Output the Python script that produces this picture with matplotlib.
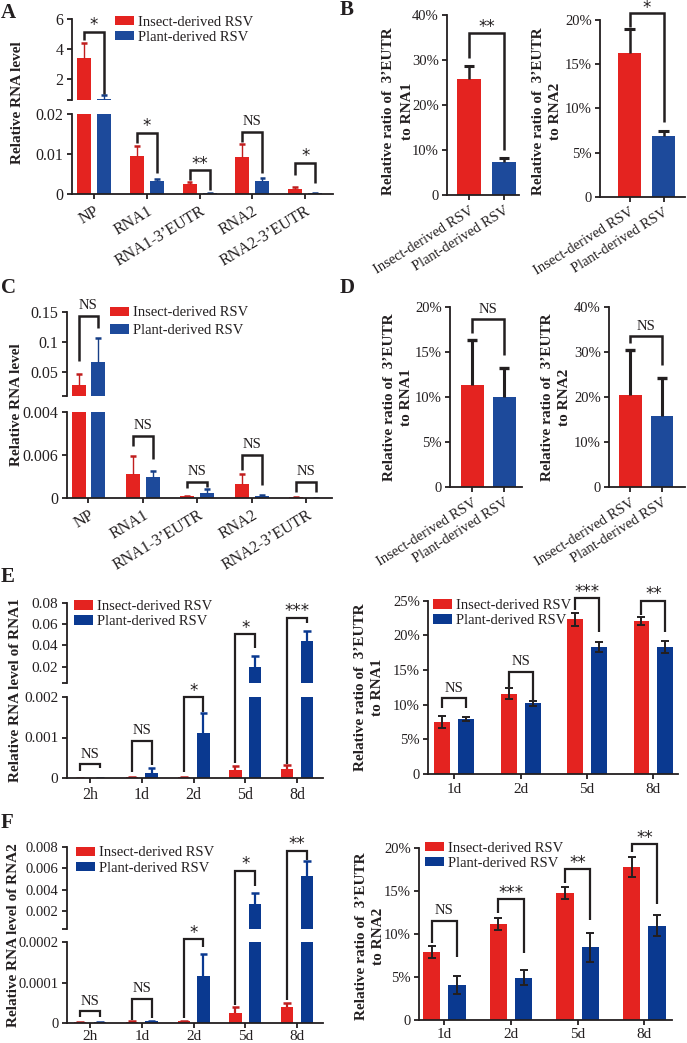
import matplotlib
matplotlib.use('Agg')
import matplotlib.pyplot as plt
from matplotlib.lines import Line2D
from matplotlib.patches import Patch
import numpy as np

# ---------------- data ----------------
A_categories = ['NP', 'RNA1', 'RNA1-3’EUTR', 'RNA2', 'RNA2-3’EUTR']
A_insect = [3.40, 0.0094, 0.0024, 0.0091, 0.0013]
A_insect_err = [0.98, 0.0025, 0.0006, 0.0033, 0.0005]
A_plant = [0.65, 0.0031, 0.0001, 0.0031, 0.0001]
A_plant_err = [0.25, 0.0007, 0.0001, 0.0009, 0.0001]
A_sig = ['*', '*', '**', 'NS', '*']

B_groups = ['Insect-derived RSV', 'Plant-derived RSV']
B1_values = [25.8, 7.4]
B1_err = [2.8, 0.9]
B1_sig = '**'
B2_values = [16.3, 6.87]
B2_err = [2.7, 0.6]
B2_sig = '*'

C_categories = A_categories
C_insect = [0.029, 0.00326, 0.0002, 0.0019, 0.00005]
C_insect_err = [0.0177, 0.0026, 0.0001, 0.00136, 0.00002]
C_plant = [0.0665, 0.00289, 0.00066, 0.00028, 0.00001]
C_plant_err = [0.0395, 0.00084, 0.00051, 0.0001, 0.00001]
C_sig = ['NS', 'NS', 'NS', 'NS', 'NS']

D1_values = [11.37, 10.07]
D1_err = [5.0, 3.2]
D2_values = [20.4, 15.9]
D2_err = [9.9, 8.4]
D_sig = 'NS'

E_times = ['2h', '1d', '2d', '5d', '8d']
E_insect = [0.000005, 0.00002, 0.00002, 0.0002, 0.00023]
E_insect_err = [0.000005, 0.00001, 0.00001, 0.0001, 0.00009]
E_plant = [0.00001, 0.000137, 0.0011, 0.020, 0.0441]
E_plant_err = [0.000005, 0.00012, 0.00049, 0.010, 0.0097]
E_sig = ['NS', 'NS', '*', '*', '***']

ER_times = ['1d', '2d', '5d', '8d']
ER_insect = [7.55, 11.6, 22.3, 22.1]
ER_insect_err = [0.85, 0.85, 0.95, 0.55]
ER_plant = [7.94, 10.2, 18.3, 18.3]
ER_plant_err = [0.33, 0.4, 0.75, 0.9]
ER_sig = ['NS', 'NS', '***', '**']

F_times = E_times
F_insect = [0.000001, 0.000002, 0.000004, 0.0000234, 0.0000383]
F_insect_err = [0.000001, 0.000001, 0.000001, 0.0000146, 0.0000115]
F_plant = [0.000001, 0.000003, 0.000117, 0.0026, 0.00532]
F_plant_err = [0.000001, 0.000002, 0.000053, 0.0011, 0.00139]
F_sig = ['NS', 'NS', '*', '*', '**']

FR_times = ER_times
FR_insect = [7.85, 11.14, 14.77, 17.8]
FR_insect_err = [0.7, 0.73, 0.68, 1.16]
FR_plant = [4.06, 4.9, 8.43, 10.94]
FR_plant_err = [1.05, 0.87, 1.64, 1.2]
FR_sig = ['NS', '***', '**', '**']

legend_labels = ['Insect-derived RSV', 'Plant-derived RSV']

# ---------------- style ----------------
W, H = 687, 1043
INK = '#231f20'
RED = '#E42320'
BLUE = '#1D4A9B'
NAVY = '#0A3990'
DRED = '#C01E1E'
DBLUE = '#163E86'
plt.rcParams['font.family'] = ['Liberation Serif', 'DejaVu Serif']
plt.rcParams.update({
    'axes.edgecolor': INK, 'xtick.color': INK, 'ytick.color': INK,
    'text.color': INK, 'axes.linewidth': 1.3,
    'xtick.major.width': 1.3, 'ytick.major.width': 1.3,
    'xtick.major.size': 3.5, 'ytick.major.size': 3.5,
    'xtick.major.pad': 3, 'ytick.major.pad': 2.5,
})
TICK_L = 11.5   # left (broken) panels
TICK_R = 10.5   # right panels
YLAB_FS = 11

fig = plt.figure(figsize=(W / 100, H / 100), dpi=100)


def add_ax(x0, y0, x1, y1, fs):
    ax = fig.add_axes([x0 / W, 1 - y1 / H, (x1 - x0) / W, (y1 - y0) / H])
    ax.spines['top'].set_visible(False)
    ax.spines['right'].set_visible(False)
    ax.patch.set_alpha(0)
    ax.tick_params(labelsize=fs)
    return ax


def to_fig(ax, x, y):
    d = ax.transData.transform((x, y))
    return fig.transFigure.inverted().transform(d)


def bracket(pl, ph, pr, xl, xr, text, lw=1.8, fs_ns=10.5, fs_star=12, star_gap=1.5):
    (axl, yl), (axh, yh), (axr, yr) = pl, ph, pr
    p1 = to_fig(axl, xl, yl)
    p2 = to_fig(axh, xl, yh)
    p3 = to_fig(axh, xr, yh)
    p4 = to_fig(axr, xr, yr)
    fig.add_artist(Line2D([p1[0], p2[0], p3[0], p4[0]], [p1[1], p2[1], p3[1], p4[1]],
                          transform=fig.transFigure, color=INK, lw=lw,
                          solid_joinstyle='miter', solid_capstyle='butt'))
    xm = (p2[0] + p3[0]) / 2
    if text == 'NS':
        fig.text(xm, p2[1] + 3.5 / H, text, ha='center', va='bottom', fontsize=fs_ns)
    else:
        fig.text(xm, p2[1] + star_gap / H, text, ha='center', va='baseline',
                 fontsize=fs_star, family='DejaVu Sans')


def err_up(ax, xs, ys, es, color, lw=1.0, capw=0.12, caplw=1.6):
    xs = np.asarray(xs, float)
    ys = np.asarray(ys, float)
    es = np.asarray(es, float)
    ax.vlines(xs, ys, ys + es, color=color, lw=lw)
    ax.hlines(ys + es, xs - capw / 2, xs + capw / 2, color=color, lw=caplw)


def legend_at(ax, x, y, colors, ls=0.15, fs=10.5):
    handles = [Patch(facecolor=c, edgecolor='none') for c in colors]
    ax.legend(handles, legend_labels, loc='upper left', bbox_to_anchor=(x / W, 1 - y / H),
              bbox_transform=fig.transFigure, frameon=False, borderpad=0, borderaxespad=0,
              handlelength=1.3, handleheight=0.65, handletextpad=0.3, labelspacing=ls,
              fontsize=fs)


def ylabel_at(x, y, text, ls=1.6):
    fig.text(x / W, 1 - y / H, text, rotation=90, ha='center', va='center',
             fontweight='bold', fontsize=YLAB_FS, linespacing=ls, multialignment='center')


def panel_letter(x, y, t):
    fig.text(x / W, 1 - y / H, t, fontsize=15, fontweight='bold', ha='left', va='baseline')


def broken(x0, x1, ty0, ty1, by0, by1, tlim, blim, tticks, tlabels, bticks, blabels, xlim,
           fs=TICK_L):
    axt = add_ax(x0, ty0, x1, ty1, fs)
    axb = add_ax(x0, by0, x1, by1, fs)
    for ax in (axt, axb):
        ax.set_xlim(*xlim)
    axt.spines['bottom'].set_visible(False)
    axt.tick_params(axis='x', bottom=False, labelbottom=False)
    axt.set_ylim(*tlim)
    axt.set_yticks(list(tticks) + [tlim[0]])
    axt.set_yticklabels(list(tlabels) + [''])
    axb.set_ylim(*blim)
    axb.set_yticks(bticks)
    axb.set_yticklabels(blabels)
    return axt, axb


def grouped(axes, xs, ins, ins_e, pla, pla_e, width, off, cr, cb, er, eb, lw, capw, caplw):
    for ax in axes:
        ax.bar(xs - off, ins, width, color=cr, zorder=2)
        ax.bar(xs + off, pla, width, color=cb, zorder=2)
        err_up(ax, xs - off, ins, ins_e, er, lw, capw, caplw)
        err_up(ax, xs + off, pla, pla_e, eb, lw, capw, caplw)


# ================= Panel A =================
xa = np.arange(len(A_categories))
axAt, axAb = broken(72, 333, 19.3, 100, 113.7, 193.7, (0.55, 6), (0, 0.02),
                    [2, 4, 6], ['2', '4', '6'], [0, 0.01, 0.02], ['0', '0.01', '0.02'],
                    (-0.417, 4.527))
grouped((axAt, axAb), xa, A_insect, A_insect_err, A_plant, A_plant_err,
        0.265, 0.19, RED, BLUE, DRED, DBLUE, 1.0, 0.11, 1.8)
axAb.set_xticks(xa)
axAb.set_xticklabels(A_categories, rotation=31, ha='right', va='top', rotation_mode='anchor',
                     fontsize=TICK_L)
legend_at(axAt, 115, 15.5, (RED, BLUE))
ylabel_at(18, 103, 'Relative RNA level')
panel_letter(1, 18, 'A')
A_br = [
    (('t', 4.6), ('t', 5.17), ('t', 0.95)),
    (('b', 0.0126), ('b', 0.01525), ('b', 0.0051)),
    (('b', 0.0034), ('b', 0.0059), ('b', 0.0009)),
    (('b', 0.0130), ('b', 0.0155), ('b', 0.0051)),
    (('b', 0.0047), ('b', 0.00775), ('b', 0.0026)),
]
amap = {'t': axAt, 'b': axAb}
for i, br in enumerate(A_br):
    bracket(*[(amap[k], v) for k, v in br], xa[i] - 0.19, xa[i] + 0.19, A_sig[i])

# ================= Panel B =================
xb = np.arange(2)
axB1 = add_ax(447, 15, 519, 195, TICK_R)
axB1.set_xlim(-0.63, 1.43)
axB1.set_ylim(0, 40)
axB1.bar(xb, B1_values, 0.66, color=[RED, BLUE])
err_up(axB1, xb, B1_values, B1_err, INK, 1.8, 0.3, 2.2)
axB1.set_yticks([0, 10, 20, 30, 40])
axB1.set_yticklabels(['0', '10%', '20%', '30%', '40%'])
axB1.set_xticks(xb)
axB1.set_xticklabels(B_groups, rotation=32, ha='right', va='top', rotation_mode='anchor',
                     fontsize=TICK_R)
bracket((axB1, 30.4), (axB1, 35.9), (axB1, 10.0), 0, 1, B1_sig)
ylabel_at(398, 111, 'Relative ratio of  3’EUTR\nto RNA1')

axB2 = add_ax(600, 20, 685, 196.7, TICK_R)
axB2.set_xlim(-0.87, 1.63)
axB2.set_ylim(0, 20)
axB2.bar(xb, B2_values, 0.70, color=[RED, BLUE])
err_up(axB2, xb, B2_values, B2_err, INK, 1.8, 0.3, 2.2)
axB2.set_yticks([0, 5, 10, 15, 20])
axB2.set_yticklabels(['0', '5%', '10%', '15%', '20%'])
axB2.set_xticks(xb)
axB2.set_xticklabels(B_groups, rotation=32, ha='right', va='top', rotation_mode='anchor',
                     fontsize=TICK_R)
bracket((axB2, 19.2), (axB2, 20.77), (axB2, 8.5), 0, 1, B2_sig, star_gap=0.5)
ylabel_at(547, 111, 'Relative ratio of  3’EUTR\nto RNA2', ls=1.35)
panel_letter(340, 15, 'B')

# ================= Panel C =================
xc = np.arange(len(C_categories))
axCt, axCb = broken(66.7, 332, 311.7, 396, 411.7, 497.7, (0.011, 0.15), (0, 0.012),
                    [0.05, 0.1, 0.15], ['0.05', '0.1', '0.15'],
                    [0, 0.006, 0.012], ['0', '0.006', '0.004'], (-0.4, 4.47))
grouped((axCt, axCb), xc, C_insect, C_insect_err, C_plant, C_plant_err,
        0.257, 0.183, RED, BLUE, DRED, DBLUE, 1.0, 0.11, 1.8)
axCb.set_xticks(xc)
axCb.set_xticklabels(C_categories, rotation=31, ha='right', va='top', rotation_mode='anchor',
                     fontsize=TICK_L)
legend_at(axCt, 110, 306.5, (RED, BLUE), ls=0.3)
ylabel_at(17, 405, 'Relative RNA level')
panel_letter(1, 293, 'C')
C_br = [
    (('t', 0.0686), ('t', 0.143), ('t', 0.1226)),
    (('b', 0.00721), ('b', 0.00861), ('b', 0.00536)),
    (('b', 0.00135), ('b', 0.00223), ('b', 0.00153)),
    (('b', 0.00386), ('b', 0.00596), ('b', 0.00177)),
    (('b', 0.00084), ('b', 0.00223), ('b', 0.00084)),
]
cmap = {'t': axCt, 'b': axCb}
for i, br in enumerate(C_br):
    bracket(*[(cmap[k], v) for k, v in br], xc[i] - 0.183, xc[i] + 0.183, C_sig[i])

# ================= Panel D =================
axD1 = add_ax(450, 307.3, 521.7, 487.3, TICK_R)
axD1.set_xlim(-0.69, 1.55)
axD1.set_ylim(0, 20)
axD1.bar(xb, D1_values, 0.72, color=[RED, BLUE])
err_up(axD1, xb, D1_values, D1_err, INK, 2.2, 0.32, 2.4)
axD1.set_yticks([0, 5, 10, 15, 20])
axD1.set_yticklabels(['0', '5%', '10%', '15%', '20%'])
axD1.set_xticks(xb)
axD1.set_xticklabels(B_groups, rotation=32, ha='right', va='top', rotation_mode='anchor',
                     fontsize=TICK_R)
bracket((axD1, 17.1), (axD1, 18.67), (axD1, 14.7), 0, 1, D_sig)
ylabel_at(398, 397, 'Relative ratio of  3’EUTR\nto RNA1', ls=1.45)

axD2 = add_ax(609, 306.7, 685, 487.3, TICK_R)
axD2.set_xlim(-0.68, 1.73)
axD2.set_ylim(0, 40)
axD2.bar(xb, D2_values, 0.71, color=[RED, BLUE])
err_up(axD2, xb, D2_values, D2_err, INK, 2.2, 0.32, 2.4)
axD2.set_yticks([0, 10, 20, 30, 40])
axD2.set_yticklabels(['0', '10%', '20%', '30%', '40%'])
axD2.set_xticks(xb)
axD2.set_xticklabels(B_groups, rotation=32, ha='right', va='top', rotation_mode='anchor',
                     fontsize=TICK_R)
bracket((axD2, 31.9), (axD2, 33.5), (axD2, 27.1), 0, 1, D_sig)
ylabel_at(556, 397, 'Relative ratio of  3’EUTR\nto RNA2', ls=1.45)
panel_letter(340, 293, 'D')

# ================= Panel E left =================
xe = np.arange(len(E_times))
axEt, axEb = broken(66.7, 323, 602.7, 682.7, 696.7, 778.3, (0.005, 0.08), (0, 0.002),
                    [0.02, 0.04, 0.06, 0.08], ['0.02', '0.04', '0.06', '0.08'],
                    [0, 0.001, 0.002], ['0', '0.001', '0.002'], (-0.45, 4.5), fs=11)
grouped((axEt, axEb), xe, E_insect, E_insect_err, E_plant, E_plant_err,
        0.24, 0.19, RED, NAVY, DRED, NAVY, 1.6, 0.15, 1.8)
axEb.set_xticks(xe)
axEb.set_xticklabels(E_times, fontsize=11.5)
legend_at(axEt, 74, 600, (RED, NAVY))
ylabel_at(16, 690, 'Relative RNA level of RNA1')
panel_letter(1, 582, 'E')
E_br = [
    (('b', 0.000185), ('b', 0.000349), ('b', 0.000244)),
    (('b', 0.000161), ('b', 0.000917), ('b', 0.000324)),
    (('b', 0.00016), ('b', 0.00199), ('b', 0.001624)),
    (('b', 0.000366), ('t', 0.0506), ('t', 0.0372)),
    (('b', 0.000349), ('t', 0.0659), ('t', 0.0607)),
]
emap = {'t': axEt, 'b': axEb}
for i, br in enumerate(E_br):
    bracket(*[(emap[k], v) for k, v in br], xe[i] - 0.19, xe[i] + 0.19, E_sig[i], lw=1.6)

# ================= Panel E right =================
xr = np.arange(len(ER_times))
axER = add_ax(428.3, 600.7, 678, 774, TICK_R)
axER.set_xlim(-0.39, 3.37)
axER.set_ylim(0, 25)
axER.bar(xr - 0.18, ER_insect, 0.24, color=RED)
axER.bar(xr + 0.18, ER_plant, 0.24, color=NAVY)
axER.errorbar(xr - 0.18, ER_insect, yerr=ER_insect_err, fmt='none', ecolor=INK,
              elinewidth=1.4, capsize=2.8, capthick=1.4)
axER.errorbar(xr + 0.18, ER_plant, yerr=ER_plant_err, fmt='none', ecolor=INK,
              elinewidth=1.4, capsize=2.8, capthick=1.4)
axER.set_yticks([0, 5, 10, 15, 20, 25])
axER.set_yticklabels(['0', '5%', '10%', '15%', '20%', '25%'])
axER.set_xticks(xr)
axER.set_xticklabels(ER_times, fontsize=11)
legend_at(axER, 433, 599, (RED, NAVY))
ylabel_at(369, 687, 'Relative ratio of  3’EUTR\nto RNA1', ls=1.45)
ER_br = [(9.52, 10.92, 9.52), (12.6, 14.76, 10.7), (23.67, 25.35, 20.53), (22.94, 24.96, 20.53)]
for i, (a, b, c) in enumerate(ER_br):
    bracket((axER, a), (axER, b), (axER, c), xr[i] - 0.18, xr[i] + 0.18, ER_sig[i], lw=1.6)

# ================= Panel F left =================
axFt, axFb = broken(66.7, 323, 847.3, 929.3, 942.3, 1022.7, (0.00024, 0.008), (0, 0.0002),
                    [0.002, 0.004, 0.006, 0.008], ['0.002', '0.004', '0.006', '0.008'],
                    [0, 0.0001, 0.0002], ['0', '0.0001', '0.0002'], (-0.45, 4.5), fs=10.5)
grouped((axFt, axFb), xe, F_insect, F_insect_err, F_plant, F_plant_err,
        0.24, 0.19, RED, NAVY, DRED, NAVY, 1.6, 0.15, 1.8)
axFb.set_xticks(xe)
axFb.set_xticklabels(F_times, fontsize=11)
axFb.tick_params(axis='x', pad=1.5)
legend_at(axFt, 76, 846.5, (RED, NAVY))
ylabel_at(14, 935, 'Relative RNA level of RNA2')
panel_letter(1, 828, 'F')
F_br = [
    (('b', 0.0000149), ('b', 0.0000291), ('b', 0.0000149)),
    (('b', 0.0000067), ('b', 0.000059), ('b', 0.000011)),
    (('b', 0.000011), ('b', 0.0002075), ('b', 0.000189)),
    (('b', 0.000044), ('t', 0.00578), ('t', 0.00436)),
    (('b', 0.0000565), ('t', 0.00768), ('t', 0.0068)),
]
fmap = {'t': axFt, 'b': axFb}
for i, br in enumerate(F_br):
    bracket(*[(fmap[k], v) for k, v in br], xe[i] - 0.19, xe[i] + 0.19, F_sig[i], lw=1.6)

# ================= Panel F right =================
axFR = add_ax(419, 847.7, 671.7, 1020, TICK_R)
axFR.set_xlim(-0.38, 3.41)
axFR.set_ylim(0, 20)
axFR.bar(xr - 0.19, FR_insect, 0.26, color=RED)
axFR.bar(xr + 0.19, FR_plant, 0.26, color=NAVY)
axFR.errorbar(xr - 0.19, FR_insect, yerr=FR_insect_err, fmt='none', ecolor=INK,
              elinewidth=1.4, capsize=2.8, capthick=1.4)
axFR.errorbar(xr + 0.19, FR_plant, yerr=FR_plant_err, fmt='none', ecolor=INK,
              elinewidth=1.4, capsize=2.8, capthick=1.4)
axFR.set_yticks([0, 5, 10, 15, 20])
axFR.set_yticklabels(['0', '5%', '10%', '15%', '20%'])
axFR.set_xticks(xr)
axFR.set_xticklabels(FR_times, fontsize=11)
axFR.tick_params(axis='x', pad=2)
legend_at(axFR, 425, 841.5, (RED, NAVY))
ylabel_at(370, 936, 'Relative ratio of  3’EUTR\nto RNA2', ls=1.45)
FR_br = [(8.9, 11.52, 7.34), (12.38, 14.0, 7.74), (15.93, 17.48, 11.6), (19.52, 20.42, 13.46)]
for i, (a, b, c) in enumerate(FR_br):
    bracket((axFR, a), (axFR, b), (axFR, c), xr[i] - 0.19, xr[i] + 0.19, FR_sig[i], lw=1.6)

fig.savefig('out.png', dpi=100)
